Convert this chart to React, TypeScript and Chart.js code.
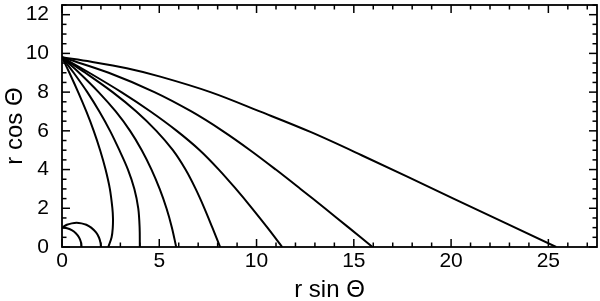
import React, { useEffect, useRef } from "react";
import { Chart, registerables } from "chart.js";

Chart.register(...registerables);

// ---- data ----
const xTickValues = [0, 5, 10, 15, 20, 25];
const yTickValues = [0, 2, 4, 6, 8, 10, 12];
const xTitle = "r sin Θ";
const yTitle = "r cos Θ";

const yLevels = [9.8, 9, 8, 7, 6, 5, 4, 3, 2, 1, 0];

const c1Y = [9.8, 9, 8, 7, 6, 5, 4, 3, 2, 1.5, 1, 0.5, 0];
const c1X = [0, 0.38, 0.83, 1.25, 1.63, 1.96, 2.24, 2.46, 2.59, 2.62, 2.61, 2.55, 2.38];
const c2X = [0, 0.6, 1.3, 1.92, 2.47, 2.95, 3.39, 3.72, 3.92, 3.99, 4.0];
const c3X = [0, 0.88, 1.88, 2.76, 3.5, 4.1, 4.6, 5.02, 5.37, 5.65, 5.87];
const c4X = [0, 1.2, 2.6, 3.82, 4.85, 5.7, 6.35, 6.87, 7.32, 7.73, 8.13];
const c5X = [0, 1.4, 3.05, 4.55, 5.9, 7.08, 8.06, 8.94, 9.77, 10.56, 11.32];
const c6X = [0, 2.4, 4.75, 6.65, 8.25, 9.67, 10.99, 12.26, 13.51, 14.74, 15.96];
const c7X = [0, 1.5, 3.33, 5.05, 7.63, 10.2, 12.8, 15.4, 20.15, 25.4];
const c7Y = [9.8, 9.57, 9.23, 8.8, 8.0, 6.99, 5.93, 4.74, 2.49, 0];

const arc1X = [0, 0.26, 0.5, 0.71, 0.87, 0.97, 1.0];
const arc1Y = [1.0, 0.97, 0.87, 0.71, 0.5, 0.26, 0];
const arc2X = [0, 0.25, 0.5, 0.75, 1.0, 1.25, 1.5, 1.75, 1.9, 1.98, 2.0];
const arc2Y = [1.0, 1.15, 1.22, 1.25, 1.22, 1.15, 1.0, 0.75, 0.49, 0.22, 0];

const FONT = "'Liberation Sans', Arial, Helvetica, sans-serif";

function pts(xs: number[], ys: number[]) {
  return xs.map((x, i) => ({ x, y: ys[i] }));
}

const frameTicks = {
  id: "frameTicks",
  afterDraw(chart: any) {
    const { ctx, chartArea } = chart;
    const { left, right, top, bottom } = chartArea;
    const xs = chart.scales.x;
    const ys = chart.scales.y;
    ctx.save();
    ctx.strokeStyle = "#000";
    ctx.lineWidth = 1.5;
    const line = (a: number, b: number, c: number, d: number) => {
      ctx.beginPath();
      ctx.moveTo(a, b);
      ctx.lineTo(c, d);
      ctx.stroke();
    };
    for (let v = 0; v <= xs.max + 1e-9; v += 1) {
      const px = xs.getPixelForValue(v);
      const len = Math.abs(v % 5) < 1e-9 ? 8 : 4.5;
      line(px, bottom, px, bottom - len);
      line(px, top, px, top + len);
    }
    for (let v = 0; v <= ys.max + 1e-9; v += 0.5) {
      const py = ys.getPixelForValue(v);
      const len = Math.abs(v % 2) < 1e-9 ? 8 : 4.5;
      line(left, py, left + len, py);
      line(right, py, right - len, py);
    }
    ctx.lineWidth = 1.8;
    ctx.strokeRect(left, top, right - left, bottom - top);
    ctx.restore();
  },
};

export default function App() {
  const ref = useRef<HTMLCanvasElement>(null);
  useEffect(() => {
    const canvas = ref.current!;
    const curves = [
      pts(arc1X, arc1Y),
      pts(arc2X, arc2Y),
      pts(c1X, c1Y),
      pts(c2X, yLevels),
      pts(c3X, yLevels),
      pts(c4X, yLevels),
      pts(c5X, yLevels),
      pts(c6X, yLevels),
      pts(c7X, c7Y),
    ];
    const chart = new Chart(canvas, {
      type: "scatter",
      data: {
        datasets: curves.map((d) => ({
          data: d,
          showLine: true,
          borderColor: "#000",
          backgroundColor: "#000",
          borderWidth: 2,
          pointRadius: 0,
          tension: 0.35,
        })),
      },
      options: {
        responsive: false,
        animation: false,
        layout: { padding: { left: 0, right: 3, top: 5, bottom: 0 } },
        plugins: { legend: { display: false }, tooltip: { enabled: false } },
        scales: {
          x: {
            type: "linear",
            min: 0,
            max: 27.5,
            grid: { display: false, drawTicks: false },
            border: { display: false },
            afterBuildTicks: (s: any) => {
              s.ticks = xTickValues.map((v) => ({ value: v }));
            },
            afterFit: (s: any) => {
              s.height = 54;
              s.paddingLeft = 0;
              s.paddingRight = 0;
            },
            ticks: {
              color: "#000",
              padding: 2,
              maxRotation: 0,
              autoSkip: false,
              font: { family: FONT, size: 21 },
            },
            title: {
              display: true,
              text: xTitle,
              color: "#000",
              font: { family: FONT, size: 24 },
              padding: { top: 0, bottom: -4 },
            },
          },
          y: {
            type: "linear",
            min: 0,
            max: 12.5,
            grid: { display: false, drawTicks: false },
            border: { display: false },
            afterBuildTicks: (s: any) => {
              s.ticks = yTickValues.map((v) => ({ value: v }));
            },
            afterFit: (s: any) => {
              s.width = 62;
              s.paddingTop = 0;
              s.paddingBottom = 0;
            },
            ticks: {
              color: "#000",
              padding: 13,
              autoSkip: false,
              font: { family: FONT, size: 21 },
            },
            title: {
              display: true,
              text: yTitle,
              color: "#000",
              font: { family: FONT, size: 24 },
              padding: { top: 1, bottom: 0 },
            },
          },
        },
      },
      plugins: [frameTicks],
    } as any);
    return () => chart.destroy();
  }, []);
  return (
    <div style={{ position: "fixed", left: 0, top: 0, width: 600, height: 301, background: "#fff" }}>
      <canvas ref={ref} width={600} height={301} style={{ display: "block" }} />
    </div>
  );
}
